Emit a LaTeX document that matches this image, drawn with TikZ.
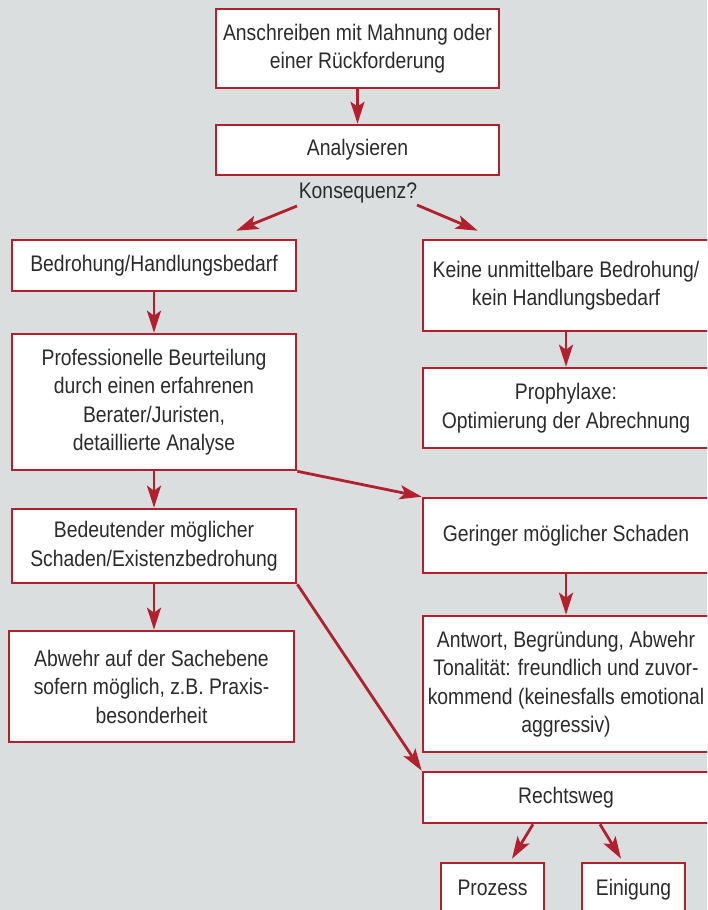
\documentclass[tikz,border=0pt]{standalone}
\usepackage{fontspec}
\setmainfont{Liberation Sans}[FakeStretch=0.86]
\usetikzlibrary{arrows.meta}
\definecolor{flowred}{HTML}{B21F2D}
\definecolor{flowbg}{HTML}{DADEDF}
\definecolor{flowtext}{HTML}{2B2B2B}

\begin{document}
\begin{tikzpicture}[x=1pt, y=-1pt, ->, >={Stealth[length=22pt, width=14pt, inset=5pt]},
        line width=2.8pt, flowred,
        flow box/.style={rectangle, draw=flowred, line width=2.6pt, fill=white,
            text=flowtext, align=center, inner sep=0pt,
            font=\fontsize{22.5}{28.5}\selectfont}]

    \useasboundingbox (0,0) rectangle (707,910);
    \fill[flowbg] (0,0) rectangle (707,910);
    \clip (0,0) rectangle (707,910);

    % Kaesten
    \node[flow box, minimum width=283pt, minimum height=79pt] (anschr) at (357.5,48.5) {Anschreiben mit Mahnung oder\\einer Rückforderung};
    \node[flow box, minimum width=283pt, minimum height=50pt] (analyse) at (357.5,150) {Analysieren};
    \node[text=flowtext, inner sep=0pt, font=\fontsize{22.5}{28}\selectfont] (kons) at (358,193) {Konsequenz?};
    \node[flow box, minimum width=284pt, minimum height=51pt] (bedr) at (154,265.5) {Bedrohung/Handlungsbedarf};
    \node[flow box, minimum width=284pt, minimum height=136pt] (prof) at (154,402) {Professionelle Beurteilung\\durch einen erfahrenen\\Berater/Juristen,\\detaillierte Analyse};
    \node[flow box, minimum width=284pt, minimum height=74pt] (bedeut) at (154,546) {Bedeutender möglicher\\Schaden/Existenzbedrohung};
    \node[flow box, minimum width=285pt, minimum height=111pt] (abwehr) at (151.5,686.5) {Abwehr auf der Sachebene\\sofern möglich, z.B. Praxis-\\besonderheit};
    \node[flow box, minimum width=286pt, minimum height=91pt] (keine) at (566,285.5) {Keine unmittelbare Bedrohung/\\kein Handlungsbedarf};
    \node[flow box, minimum width=286pt, minimum height=80pt] (prophy) at (566,408) {Prophylaxe:\\Optimierung der Abrechnung};
    \node[flow box, minimum width=286pt, minimum height=75pt] (gering) at (566,535.5) {Geringer möglicher Schaden};
    \node[flow box, minimum width=286pt, minimum height=136pt] (antwort) at (566,684) {Antwort, Begründung, Abwehr\\Tonalität: freundlich und zuvor-\\kommend (keinesfalls emotional\\aggressiv)};
    \node[flow box, minimum width=286pt, minimum height=51pt] (recht) at (566,797.5) {Rechtsweg};
    \node[flow box, minimum width=103pt, minimum height=60pt, text depth=20pt, text height=25pt] (prozess) at (492.5,893) {Prozess};
    \node[flow box, minimum width=103pt, minimum height=60pt, text depth=20pt, text height=25pt] (einig) at (633.5,893) {Einigung};

    % Pfeile
    \path (anschr) edge (analyse);
    \path ([shift={(-61,13)}]kons.center) edge ([shift={(-61,-8)}]bedr.north east);
    \path ([shift={(59,12)}]kons.center) edge ([shift={(56,-8)}]keine.north west);
    \path (bedr) edge (prof);
    \path (prof) edge (bedeut);
    \path (bedeut.south) edge (bedeut.south |- abwehr.north);
    \path (keine) edge (prophy);
    \path (gering) edge (antwort);
    \path (prof.south east) edge (gering.north west);
    \path (bedeut.south east) edge (recht.north west);
    \path ([shift={(-33,0)}]recht.south) edge ([shift={(19.5,-3)}]prozess.north);
    \path ([shift={(34,0)}]recht.south) edge ([shift={(-12.5,-3)}]einig.north);
\end{tikzpicture}
\end{document}
